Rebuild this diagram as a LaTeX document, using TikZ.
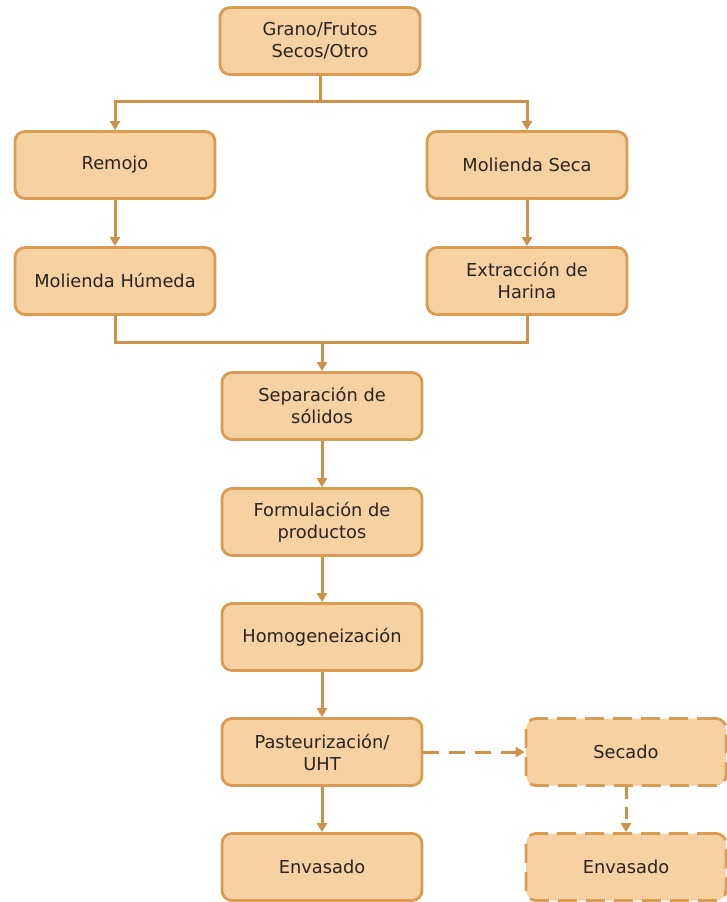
\documentclass[tikz,border=0pt]{standalone}
\usepackage{fontspec}
\setmainfont{DejaVu Sans}
\usetikzlibrary{arrows.meta}
\definecolor{boxfill}{RGB}{247,209,162}
\definecolor{boxline}{RGB}{218,155,82}
\definecolor{flow}{RGB}{206,145,74}
\definecolor{ink}{RGB}{40,36,32}
\begin{document}
\begin{tikzpicture}[x=1pt,y=-1pt,
  stepbox/.style={draw=boxline, fill=boxfill, line width=2.8pt, rounded corners=10pt,
    minimum width=200pt, minimum height=67pt, align=center, text=ink,
    font=\fontsize{17.8}{22}\selectfont, inner sep=0pt},
  optbox/.style={stepbox, dashed, dash pattern=on 19pt off 9pt},
  link/.style={draw=flow, line width=3pt},
  arrowlink/.style={link, -{Triangle[width=10pt,length=9pt]}},
  optlink/.style={arrowlink, dash pattern=on 16pt off 10pt}]
\useasboundingbox (0,0) rectangle (726,902);
\node[stepbox] (src) at (320,41) {Grano/Frutos\\Secos/Otro};
\node[stepbox] (remojo) at (115,165) {Remojo};
\node[stepbox] (mseca) at (527,165) {Molienda Seca};
\node[stepbox] (mhum) at (115,281) {Molienda Húmeda};
\node[stepbox] (harina) at (527,281) {Extracción de\\Harina};
\node[stepbox] (sep) at (322,406) {Separación de\\sólidos};
\node[stepbox] (form) at (322,522) {Formulación de\\productos};
\node[stepbox] (homo) at (322,637) {Homogeneización};
\node[stepbox] (past) at (322,752) {Pasteurización/\\UHT};
\node[stepbox] (env) at (322,867) {Envasado};
\node[optbox] (sec) at (626,752) {Secado};
\node[optbox] (env2) at (626,867) {Envasado};
% split after the raw material
\coordinate (splitL) at (115,101);
\coordinate (splitR) at (527,101);
\coordinate (splitM) at (320,101);
\draw[link] (src.south) -- (splitM);
\draw[arrowlink] (splitM) -- (splitL) -- (remojo.north);
\draw[arrowlink] (splitM) -- (splitR) -- (mseca.north);
\draw[arrowlink] (remojo) -- (mhum);
\draw[arrowlink] (mseca) -- (harina);
% merge of both milling routes
\coordinate (joinL) at (115,342);
\coordinate (joinR) at (527,342);
\coordinate (joinM) at (322,342);
\draw[link] (mhum.south) -- (joinL) -- (joinR) -- (harina.south);
\draw[arrowlink] (joinM) -- (sep.north);
\draw[arrowlink] (sep) -- (form);
\draw[arrowlink] (form) -- (homo);
\draw[arrowlink] (homo) -- (past);
\draw[arrowlink] (past) -- (env);
\draw[optlink] (past) -- (sec);
\draw[optlink, dash pattern=on 12pt off 8pt] (sec) -- (env2);
\end{tikzpicture}
\end{document}
